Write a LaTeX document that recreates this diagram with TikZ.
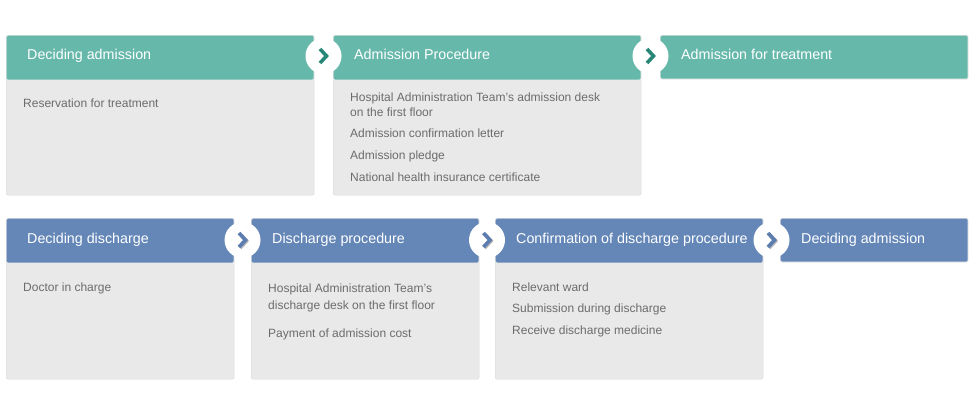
\documentclass[tikz,border=0pt]{standalone}
\usepackage{fontspec}
\setmainfont{Liberation Sans}
\usepackage{xcolor}
\definecolor{admteal}{RGB}{102, 184, 170}
\definecolor{admtealdark}{RGB}{40, 136, 120}
\definecolor{disblue}{RGB}{100, 135, 184}
\definecolor{disbluedark}{RGB}{92, 125, 176}
\definecolor{cardgray}{RGB}{233, 233, 233}
\definecolor{cardline}{RGB}{216, 216, 216}
\definecolor{itemgray}{RGB}{108, 108, 108}
\tikzset{
  card/.style={draw=cardline, fill=cardgray, rounded corners=2pt, anchor=north west, inner sep=0pt},
  headbar/.style={fill=#1, rounded corners=1.5pt, anchor=north west, inner sep=0pt, minimum height=44pt},
  headtext/.style={anchor=base west, text=white, font=\fontsize{14.3}{17}\selectfont, inner sep=0pt},
  item/.style={anchor=base west, text=itemgray, font=\fontsize{12}{16}\selectfont, inner sep=0pt},
  stepcirc/.style={circle, fill=white, minimum size=36pt, inner sep=0pt},
  chev/.style={draw=#1, line width=3.6pt, line join=miter},
  chevshadow/.style={draw=black!30, line width=3.6pt, line join=miter}
}

\begin{document}
\begin{tikzpicture}[x=1pt, y=-1pt]
    \useasboundingbox (0,0) rectangle (970,415);

    % Admission row
    \node[card, minimum width=308pt, minimum height=160pt] (admcard1) at (6,35) {};
    \node[card, minimum width=308pt, minimum height=160pt] (admcard2) at (333,35) {};
    \node[card, minimum width=308pt, minimum height=44pt] (admcard3) at (660,35) {};

    \node[headbar=admteal, minimum width=307pt] (adm1) at (6.5,35.5) {};
    \node[headbar=admteal, minimum width=307pt] (adm2) at (333.5,35.5) {};
    \node[headbar=admteal, minimum width=307pt, minimum height=43pt] (adm3) at (660.5,35.5) {};

    \node[headtext] (admt1) at (27,59.3) {Deciding admission};
    \node[headtext] (admt2) at (354,59.3) {Admission Procedure};
    \node[headtext] (admt3) at (681,59.3) {Admission for treatment};

    \node[item] (resv) at (23,107.5) {Reservation for treatment};

    \node[item] (desk) at (350,101) {Hospital Administration Team’s admission desk};
    \node[item] (deskb) at (350,116.7) {on the first floor};
    \node[item] (letter) at (350,137.7) {Admission confirmation letter};
    \node[item] (pledge) at (350,159.3) {Admission pledge};
    \node[item] (insur) at (350,181) {National health insurance certificate};

    % Step markers (admission)
    \node[stepcirc] (astep1) at (323.5,56) {};
    \node[stepcirc] (astep2) at (650.5,56) {};
    \draw[chev=admtealdark] ([xshift=-3.5pt,yshift=7pt]astep1.center) -- ([xshift=3pt]astep1.center) -- ([xshift=-3.5pt,yshift=-7pt]astep1.center);
    \draw[chev=admtealdark] ([xshift=-3.5pt,yshift=7pt]astep2.center) -- ([xshift=3pt]astep2.center) -- ([xshift=-3.5pt,yshift=-7pt]astep2.center);

    % Discharge row
    \node[card, minimum width=228pt, minimum height=161pt] (discard1) at (6,218) {};
    \node[card, minimum width=228pt, minimum height=161pt] (discard2) at (251,218) {};
    \node[card, minimum width=268pt, minimum height=161pt] (discard3) at (495,218) {};
    \node[card, minimum width=188pt, minimum height=44pt] (discard4) at (780,218) {};

    \node[headbar=disblue, minimum width=227pt] (dis1) at (6.5,218.5) {};
    \node[headbar=disblue, minimum width=227pt] (dis2) at (251.5,218.5) {};
    \node[headbar=disblue, minimum width=267pt] (dis3) at (495.5,218.5) {};
    \node[headbar=disblue, minimum width=187pt, minimum height=43pt] (dis4) at (780.5,218.5) {};

    \node[headtext] (dist1) at (27,243.3) {Deciding discharge};
    \node[headtext] (dist2) at (272,243.3) {Discharge procedure};
    \node[headtext] (dist3) at (516,243.3) {Confirmation of discharge procedure};
    \node[headtext] (dist4) at (801,243.3) {Deciding admission};

    \node[item] (doctor) at (23,291.7) {Doctor in charge};

    \node[item] (ddesk) at (268,292.3) {Hospital Administration Team’s};
    \node[item] (ddeskb) at (268,309.3) {discharge desk on the first floor};
    \node[item] (payment) at (268,337.7) {Payment of admission cost};

    \node[item] (ward) at (512,291.7) {Relevant ward};
    \node[item] (submit) at (512,312.3) {Submission during discharge};
    \node[item] (medic) at (512,334.3) {Receive discharge medicine};

    % Step markers (discharge)
    \node[stepcirc] (dstep1) at (242.5,240) {};
    \node[stepcirc] (dstep2) at (487,240) {};
    \node[stepcirc] (dstep3) at (771.5,240) {};
    \draw[chevshadow] ([xshift=-2.5pt,yshift=6pt]dstep1.center) -- ([xshift=4pt,yshift=-1pt]dstep1.center) -- ([xshift=-2.5pt,yshift=-8pt]dstep1.center);
    \draw[chev=disbluedark] ([xshift=-3.5pt,yshift=7pt]dstep1.center) -- ([xshift=3pt]dstep1.center) -- ([xshift=-3.5pt,yshift=-7pt]dstep1.center);
    \draw[chevshadow] ([xshift=-2.5pt,yshift=6pt]dstep2.center) -- ([xshift=4pt,yshift=-1pt]dstep2.center) -- ([xshift=-2.5pt,yshift=-8pt]dstep2.center);
    \draw[chev=disbluedark] ([xshift=-3.5pt,yshift=7pt]dstep2.center) -- ([xshift=3pt]dstep2.center) -- ([xshift=-3.5pt,yshift=-7pt]dstep2.center);
    \draw[chevshadow] ([xshift=-2.5pt,yshift=6pt]dstep3.center) -- ([xshift=4pt,yshift=-1pt]dstep3.center) -- ([xshift=-2.5pt,yshift=-8pt]dstep3.center);
    \draw[chev=disbluedark] ([xshift=-3.5pt,yshift=7pt]dstep3.center) -- ([xshift=3pt]dstep3.center) -- ([xshift=-3.5pt,yshift=-7pt]dstep3.center);
\end{tikzpicture}
\end{document}
